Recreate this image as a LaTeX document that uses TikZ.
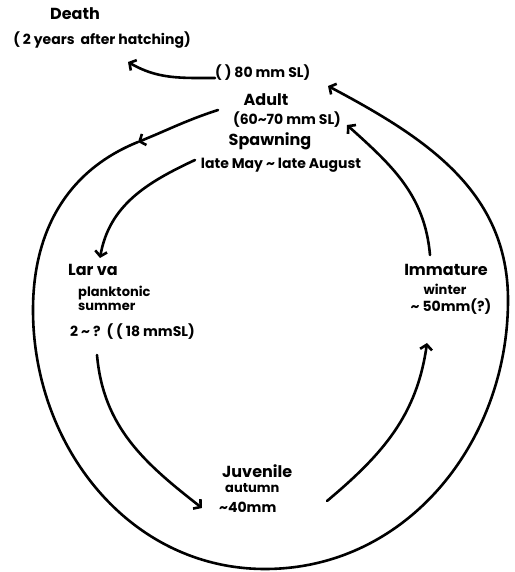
\documentclass[tikz,border=0pt]{standalone}
\usepackage{fontspec}
\setmainfont{Poppins}
\usetikzlibrary{arrows.meta,positioning}

\begin{document}
\begin{tikzpicture}[
  x=1pt, y=1pt,
  big/.style={font=\fontsize{16}{18}\selectfont\bfseries, inner sep=0pt},
  sm/.style={font=\fontsize{14}{16}\selectfont\bfseries, inner sep=0pt},
  xs/.style={font=\fontsize{13}{15}\selectfont\bfseries, inner sep=0pt},
  ln/.style={line width=2.6pt, line cap=round},
  arr/.style={ln, -{Straight Barb[length=5pt,width=12pt,line width=2.6pt]}}
]
\useasboundingbox (0,0) rectangle (514,572);

% stages
\node[big] (death) at (75,558) {Death};
\node[sm] (hatch) at (102,532) {( 2 years\ \ after hatching)};
\node[sm, anchor=west] (maxsize) at (215,499) {( ) 80 mm SL)};
\node[big] (adult) at (266,472) {Adult};
\node[sm] (adsize) at (287,452) {(60\textasciitilde70 mm SL)};
\node[big] (spawn) at (270,431) {Spawning};
\node[sm] (season) at (281,407) {late May \textasciitilde{} late August};
\node[big, anchor=west] (larva) at (68,302) {Lar va};
\node[xs, anchor=west] (plank) at (78,279) {planktonic};
\node[xs, anchor=west] (summer) at (78,265) {summer};
\node[sm, anchor=west] (lvsize) at (70,240) {2 \textasciitilde{} ?\ \ ( ( 18 mmSL)};
\node[big] (immat) at (446,302) {Immature};
\node[xs] (winter) at (445,283) {winter};
\node[sm] (imsize) at (451,265) {\textasciitilde{} 50mm(?)};
\node[big, anchor=west] (juv) at (222,101) {Juvenile};
\node[xs, anchor=west] (autumn) at (225,84) {autumn};
\node[sm, anchor=west] (jvsize) at (219,65) {\textasciitilde40mm};

% free ends
\coordinate (dtip) at (128,510);
\coordinate (lstart) at (218,462);
\coordinate (lmid) at (138,430);
\coordinate (lleft) at (33,262);
\coordinate (lbot) at (265,3);
\coordinate (lright) at (508,272);
\coordinate (ltip) at (328,486);

\draw[arr] ([yshift=-5pt]maxsize.west) to[out=180,in=-30] (dtip);
\draw[arr] (lstart) to[out=198,in=22] (lmid);
\draw[arr] (lmid) to[out=202,in=90] (lleft) to[out=-90,in=180] (lbot)
  to[out=0,in=-90] (lright) to[out=90,in=-28] (ltip);
\draw[arr] (195,412) to[out=205,in=80] (100,314);
\draw[arr] (97,217) to[out=-85,in=142] (202,64);
\draw[arr] (327,71) to[out=40,in=-98] (427,229);
\draw[arr] (430,317) to[out=95,in=-42] (347,447);
\end{tikzpicture}
\end{document}
